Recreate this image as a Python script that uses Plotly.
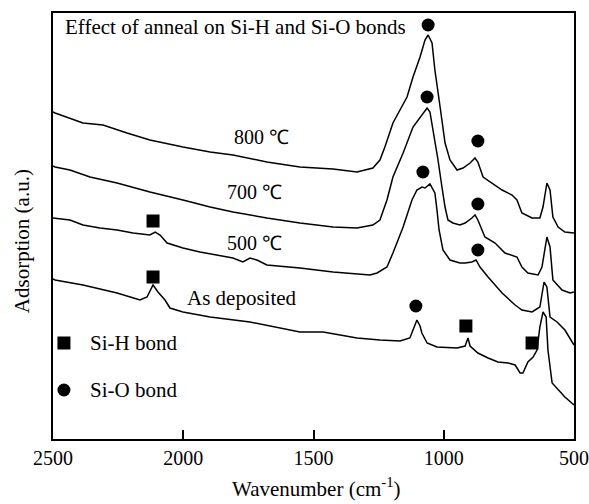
import plotly.graph_objects as go

# ---- data (wavenumber in cm^-1, absorption in arbitrary units) ----
w_800 = [2500, 2492, 2385, 2308, 2216, 2128, 2001, 1897, 1809, 1679, 1552, 1425, 1333, 1272, 1245, 1226,
         1195, 1168, 1141, 1118, 1091, 1072, 1060, 1045, 1034, 1014, 995, 976, 949, 926, 899, 880, 869,
         849, 815, 776, 738, 719, 700, 661, 631, 619, 604, 592, 581, 561, 535, 500]
a_800 = [3.27, 3.26, 3.16, 3.14, 3.06, 2.99, 2.92, 2.87, 2.84, 2.77, 2.72, 2.70, 2.67, 2.71, 2.79, 2.92,
         3.16, 3.29, 3.42, 3.62, 3.82, 3.99, 4.04, 3.96, 3.69, 3.32, 2.96, 2.79, 2.69, 2.71, 2.76, 2.81, 2.77,
         2.62, 2.56, 2.49, 2.44, 2.39, 2.26, 2.21, 2.21, 2.32, 2.56, 2.49, 2.22, 2.12, 2.07, 2.06]

w_700 = [2500, 2492, 2435, 2358, 2254, 2128, 2001, 1897, 1809, 1679, 1552, 1425, 1333, 1272, 1245, 1218,
         1195, 1156, 1118, 1091, 1064, 1053, 1041, 1022, 1007, 995, 984, 965, 938, 918, 892, 880, 869,
         842, 803, 765, 719, 700, 677, 638, 623, 604, 592, 581, 546, 515, 500]
a_700 = [2.73, 2.72, 2.69, 2.62, 2.56, 2.47, 2.39, 2.32, 2.27, 2.21, 2.16, 2.12, 2.11, 2.14, 2.19, 2.39,
         2.62, 2.86, 3.12, 3.22, 3.31, 3.27, 3.09, 2.79, 2.52, 2.32, 2.19, 2.16, 2.14, 2.16, 2.21, 2.24, 2.19,
         2.02, 1.96, 1.86, 1.82, 1.72, 1.66, 1.64, 1.72, 2.02, 1.92, 1.59, 1.49, 1.46, 1.47]

w_500 = [2500, 2435, 2385, 2320, 2254, 2193, 2128, 2108, 2089, 2062, 2001, 1936, 1809, 1771, 1744, 1717,
         1679, 1552, 1425, 1283, 1256, 1218, 1195, 1156, 1122, 1103, 1084, 1072, 1053, 1034, 1026, 1018,
         1003, 976, 938, 918, 892, 876, 861, 830, 776, 726, 700, 661, 631, 615, 604, 592, 565, 535, 500]
a_500 = [2.21, 2.19, 2.14, 2.11, 2.09, 2.06, 2.04, 2.07, 2.04, 1.96, 1.91, 1.87, 1.81, 1.77, 1.81, 1.79,
         1.74, 1.71, 1.67, 1.64, 1.66, 1.72, 1.86, 2.12, 2.39, 2.49, 2.52, 2.51, 2.55, 2.46, 2.29, 2.09,
         1.89, 1.79, 1.76, 1.76, 1.77, 1.79, 1.72, 1.62, 1.46, 1.34, 1.29, 1.27, 1.32, 1.57, 1.52, 1.22,
         1.17, 1.09, 0.94]

w_dep = [2500, 2492, 2385, 2254, 2166, 2139, 2116, 2097, 2070, 2051, 2001, 1897, 1744, 1552, 1463, 1333,
         1245, 1168, 1130, 1118, 1103, 1091, 1084, 1064, 1026, 949, 918, 907, 899, 869, 830, 792, 753,
         726, 707, 696, 677, 657, 642, 631, 619, 607, 600, 584, 561, 535, 500]
a_dep = [1.60, 1.59, 1.54, 1.46, 1.39, 1.42, 1.54, 1.47, 1.39, 1.31, 1.27, 1.22, 1.17, 1.07, 1.07, 1.01,
         0.99, 0.98, 1.01, 1.09, 1.19, 1.13, 1.06, 0.96, 0.92, 0.91, 0.93, 1.01, 0.93, 0.86, 0.81, 0.77, 0.76,
         0.74, 0.66, 0.66, 0.77, 0.82, 0.89, 1.12, 1.27, 1.22, 0.89, 0.56, 0.49, 0.42, 0.34]

# bond markers
sio_w = [1060, 1064, 1080, 869, 869, 869, 1107]
sio_a = [4.14, 3.42, 2.67, 2.98, 2.35, 1.89, 1.33]
sih_w = [2116, 2116, 915, 661]
sih_a = [2.18, 1.62, 1.13, 0.96]

# legend markers
leg_w = [2458, 2458]
leg_a = [0.96, 0.49]
leg_labels = ["Si-H bond", "Si-O bond"]
leg_label_w = 2366

# curve labels
curve_labels = ["800 ℃", "700 ℃", "500 ℃"]
curve_label_w = [1698, 1725, 1728]
curve_label_a = [3.02, 2.47, 1.96]

x_ticks = [2500, 2000, 1500, 1000, 500]

FONT = "Liberation Serif, Times New Roman, serif"

fig = go.Figure()
for w, a in [(w_800, a_800), (w_700, a_700), (w_500, a_500), (w_dep, a_dep)]:
    fig.add_trace(go.Scatter(x=w, y=a, mode="lines",
                             line=dict(color="black", width=1.5), showlegend=False, hoverinfo="skip"))

fig.add_trace(go.Scatter(x=sio_w, y=sio_a, mode="markers",
                         marker=dict(symbol="circle", size=13, color="black"), showlegend=False))
fig.add_trace(go.Scatter(x=sih_w, y=sih_a, mode="markers",
                         marker=dict(symbol="square", size=13, color="black"), showlegend=False))
fig.add_trace(go.Scatter(x=[leg_w[0]], y=[leg_a[0]], mode="markers",
                         marker=dict(symbol="square", size=13, color="black"), showlegend=False))
fig.add_trace(go.Scatter(x=[leg_w[1]], y=[leg_a[1]], mode="markers",
                         marker=dict(symbol="circle", size=13, color="black"), showlegend=False))

ann = []
ann.append(dict(x=2462, y=4.12, xref="x", yref="y", text="Effect of anneal on Si-H and Si-O bonds",
                xanchor="left", yanchor="middle", showarrow=False, font=dict(size=21)))
for t, xw, ya in zip(curve_labels, curve_label_w, curve_label_a):
    ann.append(dict(x=xw, y=ya, xref="x", yref="y", text=t, xanchor="center", yanchor="middle", showarrow=False))
ann.append(dict(x=1993, y=1.41, xref="x", yref="y", text="As deposited", xanchor="left",
                yanchor="middle", showarrow=False, font=dict(size=21)))
for t, ya in zip(leg_labels, leg_a):
    ann.append(dict(x=leg_label_w, y=ya, xref="x", yref="y", text=t, xanchor="left",
                    yanchor="middle", showarrow=False, font=dict(size=21)))
ann.append(dict(x=0.505, y=-0.115, xref="paper", yref="paper", text="Wavenumber (cm<sup>-1</sup>)",
                xanchor="center", yanchor="middle", showarrow=False, font=dict(size=21)))
ann.append(dict(x=-0.059, y=0.465, xref="paper", yref="paper", text="Adsorption (a.u.)", textangle=-90,
                xanchor="center", yanchor="middle", showarrow=False, font=dict(size=21)))

fig.update_layout(
    width=589, height=504,
    margin=dict(l=53, r=15, t=13, b=65, autoexpand=False),
    paper_bgcolor="white", plot_bgcolor="white",
    font=dict(family=FONT, size=20, color="black"),
    annotations=ann,
    xaxis=dict(range=[2500, 500], tickvals=x_ticks, ticktext=[str(v) for v in x_ticks],
               ticks="inside", ticklen=9, tickwidth=2, tickcolor="black",
               showline=True, linewidth=2, linecolor="black", mirror=True, automargin=False,
               showgrid=False, zeroline=False, tickfont=dict(size=20)),
    yaxis=dict(range=[0, 4.26], showticklabels=False, ticks="", automargin=False,
               showline=True, linewidth=2, linecolor="black", mirror=True,
               showgrid=False, zeroline=False),
)

fig.write_html("out.html")
